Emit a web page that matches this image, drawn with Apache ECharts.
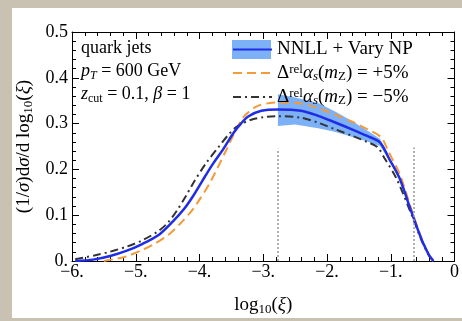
<!DOCTYPE html>
<html><head><meta charset="utf-8">
<script src="https://cdn.jsdelivr.net/npm/echarts@6/dist/echarts.min.js"></script>
<style>
html,body{margin:0;padding:0;background:#c9c1b2;}
#panel{position:absolute;left:12px;top:8px;width:450px;height:310px;background:#fff;}
#c{position:absolute;left:0;top:0;width:462px;height:321px;}
</style></head>
<body><div id="panel"></div><div id="c"></div>
<script>
// ---- data ----
const nnll = [[-5.95,0.0],[-5.67,0.003],[-5.4,0.011],[-5.15,0.022],[-4.9,0.037],[-4.63,0.058],[-4.42,0.086],[-4.24,0.114],[-4.1,0.142],[-3.96,0.174],[-3.8,0.21],[-3.62,0.246],[-3.47,0.279],[-3.35,0.3],[-3.23,0.316],[-3.03,0.328],[-2.77,0.331],[-2.41,0.328],[-2.14,0.317],[-1.88,0.303],[-1.6,0.287],[-1.37,0.273],[-1.17,0.259],[-1.02,0.222],[-0.86,0.18],[-0.67,0.105],[-0.51,0.045],[-0.4,0.013],[-0.33,0.0]];
const plus5 = [[-5.5,0.0],[-5.15,0.01],[-4.9,0.024],[-4.7,0.038],[-4.48,0.058],[-4.3,0.082],[-4.12,0.11],[-4.0,0.134],[-3.84,0.17],[-3.57,0.245],[-3.45,0.28],[-3.31,0.314],[-3.11,0.337],[-2.9,0.345],[-2.77,0.346],[-2.41,0.344],[-2.14,0.334],[-1.88,0.32],[-1.6,0.304],[-1.37,0.288],[-1.15,0.27],[-1.04,0.24],[-0.86,0.19],[-0.67,0.11],[-0.51,0.047],[-0.4,0.013],[-0.33,0.0]];
const minus5 = [[-5.95,0.004],[-5.65,0.012],[-5.41,0.02],[-5.15,0.031],[-4.9,0.045],[-4.65,0.065],[-4.5,0.083],[-4.35,0.111],[-4.2,0.145],[-4.09,0.172],[-3.9,0.213],[-3.7,0.249],[-3.55,0.275],[-3.42,0.293],[-3.2,0.308],[-3.0,0.314],[-2.77,0.316],[-2.41,0.313],[-2.14,0.302],[-1.88,0.288],[-1.6,0.273],[-1.37,0.26],[-1.21,0.249],[-1.1,0.225],[-0.91,0.18],[-0.67,0.1],[-0.51,0.043],[-0.4,0.012],[-0.33,0.0]];
const bandX  = [-2.77,-2.5,-2.14,-1.88,-1.6,-1.37,-1.17,-1.05];
const bandLo = [0.295,0.298,0.29,0.282,0.271,0.261,0.251,0.226];
const bandHi = [0.364,0.357,0.345,0.327,0.305,0.285,0.267,0.236];
const vLineX = [-2.77,-0.64];
const vLineTop = [0.245,0.248];
const xTicks = [-6,-5,-4,-3,-2,-1,0];
const yTicks = [0,0.1,0.2,0.3,0.4,0.5];

const SERIF = 'Liberation Serif';
const BLUE = '#1f2de6', ORANGE = '#f39a3a', DARK = '#333333', BAND = '#7db1f7';
function mkRich(fs, lh){
  const s = Math.round(fs*0.66);
  return {
    i:{fontFamily:SERIF,fontSize:fs,fontStyle:'italic',lineHeight:lh,color:'#000'},
    r:{fontFamily:SERIF,fontSize:fs,lineHeight:lh,color:'#000'},
    sup:{fontFamily:SERIF,fontSize:s,lineHeight:s,verticalAlign:'top',color:'#000'},
    sub:{fontFamily:SERIF,fontSize:s,lineHeight:s,verticalAlign:'bottom',color:'#000'},
    subi:{fontFamily:SERIF,fontSize:s,fontStyle:'italic',lineHeight:s,verticalAlign:'bottom',color:'#000'}
  };
}
const richText = mkRich(18, 22);
const richName = mkRich(19, 22);
const richLegend = mkRich(19, 20);
const N1 = 'NNLL + Vary NP', N2 = 'plus5', N3 = 'minus5';
const legendText = {
  [N1]: '{r|NNLL + Vary NP}',
  [N2]: '{r|Δ}{sup|rel}{i|α}{subi|s}{r|(}{i|m}{sub|Z}{r|) = +5%}',
  [N3]: '{r|Δ}{sup|rel}{i|α}{subi|s}{r|(}{i|m}{sub|Z}{r|) = −5%}'
};

function mkAxis(kind, pos, extra){
  const ticks = kind==='x' ? xTicks : yTicks;
  return Object.assign({
    type:'value', position:pos,
    min:ticks[0], max:ticks[ticks.length-1], interval: kind==='x' ? 1 : 0.1,
    axisLine:{show:true,onZero:false,lineStyle:{color:'#000',width:1}},
    axisTick:{show:true,inside:false,length:-7,lineStyle:{color:'#000',width:1}},
    minorTick:{show:true,splitNumber:5,length:-4,lineStyle:{color:'#000',width:1}},
    splitLine:{show:false},
    axisLabel:{show:false}
  }, extra||{});
}

const chart = echarts.init(document.getElementById('c'), null, {renderer:'canvas'});
chart.setOption({
  animation:false,
  grid:{left:72,right:4,top:32,bottom:58,containLabel:false},
  xAxis:[
    mkAxis('x','bottom',{
      name:'{r|log}{sub|10}{r|(}{i|ξ}{r|)}', nameLocation:'middle', nameGap:33,
      nameTextStyle:{rich:richName,fontSize:19,fontFamily:SERIF},
      axisLabel:{show:true,inside:false,margin:2,fontFamily:SERIF,fontSize:18,color:'#000',
        formatter:v=> v===0 ? '0' : '−'+Math.abs(v)+'.'}}),
    mkAxis('x','top')
  ],
  yAxis:[
    mkAxis('y','left',{
      name:'{r|(1/}{i|σ}{r|)d}{i|σ}{r|/d log}{sub|10}{r|(}{i|ξ}{r|)}', nameLocation:'middle', nameGap:31, nameRotate:90,
      nameTextStyle:{rich:richName,fontSize:19,fontFamily:SERIF},
      axisLabel:{show:true,inside:false,margin:4,fontFamily:SERIF,fontSize:18,color:'#000',
        formatter:v=> v===0 ? '0.' : v.toFixed(1)}}),
    mkAxis('y','right')
  ],
  legend:[
    {orient:'vertical',left:227,top:35,itemWidth:39,itemHeight:20,itemGap:4,itemTextGap:9,
     data:[N1,N2,N3], formatter:n=>legendText[n],
     textStyle:{fontFamily:SERIF,fontSize:19,color:'#000',rich:richLegend},
     itemStyle:{opacity:0}, selectedMode:false, z:5},
    {orient:'vertical',left:227,top:35,itemWidth:39,itemHeight:19,
     data:[{name:'band',icon:'rect'}], formatter:()=>'', selectedMode:false, z:4}
  ],
  graphic:[
    {type:'text',left:81,top:39,style:{text:'{r|quark jets}',rich:richText}},
    {type:'text',left:81,top:62,style:{text:'{i|p}{subi|T}{r| = 600 GeV}',rich:richText}},
    {type:'text',left:81,top:85,style:{text:'{i|z}{sub|cut}{r| = 0.1, }{i|β}{r| = 1}',rich:richText}}
  ],
  series:[
    {type:'custom',name:'band',z:1,itemStyle:{color:BAND},
     data:bandX.map((x,i)=>[x,bandLo[i],bandHi[i]]),
     encode:{x:0,y:[1,2]},
     renderItem:(params,api)=>{
       if(params.dataIndex!==0) return null;
       const pts=[];
       for(let i=0;i<bandX.length;i++) pts.push(api.coord([bandX[i],bandHi[i]]));
       for(let i=bandX.length-1;i>=0;i--) pts.push(api.coord([bandX[i],bandLo[i]]));
       return {type:'polygon',shape:{points:pts},style:{fill:BAND}};
     }},
    {type:'line',name:N2,data:plus5,smooth:0.3,symbol:'none',showSymbol:false,z:3,
     lineStyle:{color:ORANGE,width:2,type:[9,5]},itemStyle:{color:ORANGE}},
    {type:'line',name:N3,data:minus5,smooth:0.3,symbol:'none',showSymbol:false,z:3,
     lineStyle:{color:DARK,width:2,type:[8,4,2,4]},itemStyle:{color:DARK}},
    {type:'line',name:N1,data:nnll,smooth:0.3,symbol:'none',showSymbol:false,z:4,
     lineStyle:{color:BLUE,width:2.5},itemStyle:{color:BLUE},
     markLine:{silent:true,symbol:'none',label:{show:false},
       lineStyle:{color:'#999',type:[2,2],width:1.5},
       data:vLineX.map((x,i)=>[{coord:[x,0]},{coord:[x,vLineTop[i]]}])}}
  ]
});
</script></body></html>
